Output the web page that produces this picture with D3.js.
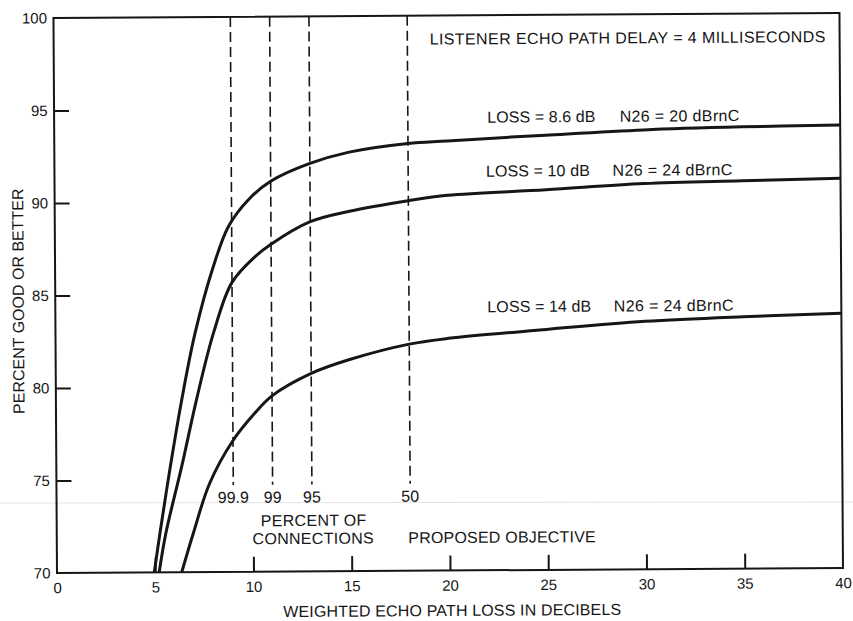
<!DOCTYPE html>
<html>
<head>
<meta charset="utf-8">
<script src="https://cdn.jsdelivr.net/npm/d3@7"></script>
<style>
  html, body { margin: 0; padding: 0; background: #fff; }
  svg { display: block; font-family: "Liberation Sans", Arial, Helvetica, sans-serif; }
</style>
</head>
<body>
<svg id="chart" width="853" height="621"></svg>
<script>
// Axis ticks
const xTickLabels = [0, 5, 10, 15, 20, 25, 30, 35, 40];
const yTickLabels = [70, 75, 80, 85, 90, 95, 100];
const xTickMarks = [5, 10, 15, 20, 25, 30, 35];
const yTickMarks = [75, 80, 85, 90, 95];

// Weighted echo path loss (dB) vs. percent good or better
const loss86X = [4.95, 5.25, 5.8, 6.4, 7.1, 8.05, 8.85, 9.85, 11, 13, 15, 18, 20, 25, 30, 35, 40];
const loss86Y = [70, 72.1, 75.7, 79.3, 82.9, 86.5, 88.7, 90.1, 91.1, 92.05, 92.65, 93.1, 93.22, 93.5, 93.75, 93.88, 93.95];

const loss10X = [5.2, 5.55, 6.4, 7.15, 8.05, 9, 10.2, 11, 13, 15, 18, 20, 25, 30, 35, 40];
const loss10Y = [70, 72.1, 75.8, 79.3, 82.95, 85.65, 87.05, 87.7, 88.9, 89.45, 90.0, 90.28, 90.55, 90.85, 90.97, 91.07];

const loss14X = [6.35, 6.95, 7.8, 9, 10.1, 11, 13, 15, 18, 20, 25, 30, 35, 40];
const loss14Y = [70, 72.1, 74.8, 77.1, 78.55, 79.5, 80.7, 81.45, 82.25, 82.55, 83.0, 83.4, 83.62, 83.77];

// Percent-of-connections markers (echo path loss, dB)
const markerLoss = [9, 11, 13, 18];
const markerLabels = ["99.9", "99", "95", "50"];
const markerBottom = 74.7;

const seriesLossLabels = ["LOSS = 8.6 dB", "LOSS = 10 dB", "LOSS = 14 dB"];
const seriesNoiseLabels = ["N26 = 20 dBrnC", "N26 = 24 dBrnC", "N26 = 24 dBrnC"];

const svg = d3.select("#chart");
const ink = "#161616";

const x = d3.scaleLinear().domain([0, 40]).range([57, 843]);
const y = d3.scaleLinear().domain([70, 100]).range([573, 18]);

// faint horizontal streak across the sheet
svg.append("line")
  .attr("x1", 0).attr("x2", 853).attr("y1", 503).attr("y2", 502)
  .attr("stroke", "#e4e4e4").attr("stroke-width", 1);

// the drawing sits very slightly tilted on the page
const g = svg.append("g").attr("transform", "rotate(-0.364, 57, 573)");

// tick labels
const yAxis = g.append("g")
  .attr("transform", `translate(${x(0)},0)`)
  .call(d3.axisLeft(y).tickValues(yTickLabels).tickSize(0).tickPadding(6.5).tickFormat(d3.format("d")));
yAxis.select(".domain").remove();
yAxis.selectAll("text").attr("font-size", 15).attr("fill", ink).attr("font-family", null);

const xAxis = g.append("g")
  .attr("transform", `translate(0,${y(70)})`)
  .call(d3.axisBottom(x).tickValues(xTickLabels).tickSize(0).tickPadding(9.5).tickFormat(d3.format("d")));
xAxis.select(".domain").remove();
xAxis.selectAll("text").attr("font-size", 15).attr("fill", ink).attr("font-family", null);

// inward tick marks
const yMarks = g.append("g")
  .attr("transform", `translate(${x(0)},0)`)
  .call(d3.axisLeft(y).tickValues(yTickMarks).tickSize(-15).tickFormat(""));
yMarks.select(".domain").remove();
yMarks.selectAll("line").attr("stroke", ink).attr("stroke-width", 2);

const xMarks = g.append("g")
  .attr("transform", `translate(0,${y(70)})`)
  .call(d3.axisBottom(x).tickValues(xTickMarks).tickSize(-15).tickFormat(""));
xMarks.select(".domain").remove();
xMarks.selectAll("line").attr("stroke", ink).attr("stroke-width", 2);

// frame
g.append("rect")
  .attr("x", x(0)).attr("y", y(100))
  .attr("width", x(40) - x(0)).attr("height", y(70) - y(100))
  .attr("fill", "none").attr("stroke", ink).attr("stroke-width", 2);

// dashed percentile markers
g.selectAll("line.marker")
  .data(markerLoss)
  .join("line")
  .attr("class", "marker")
  .attr("x1", d => x(d)).attr("x2", d => x(d))
  .attr("y1", y(100)).attr("y2", y(markerBottom))
  .attr("stroke", ink).attr("stroke-width", 1.6)
  .attr("stroke-dasharray", "10,5");

g.selectAll("text.marker")
  .data(markerLoss)
  .join("text")
  .attr("class", "marker")
  .attr("x", d => x(d)).attr("y", 504)
  .attr("text-anchor", "middle")
  .attr("font-size", 16).attr("fill", ink)
  .text((d, i) => markerLabels[i]);

// curves
const line = d3.line()
  .x(d => x(d[0])).y(d => y(d[1]))
  .curve(d3.curveCatmullRom.alpha(0.5));

const series = [
  d3.zip(loss86X, loss86Y),
  d3.zip(loss10X, loss10Y),
  d3.zip(loss14X, loss14Y)
];

g.selectAll("path.curve")
  .data(series)
  .join("path")
  .attr("class", "curve")
  .attr("d", line)
  .attr("fill", "none").attr("stroke", ink)
  .attr("stroke-width", 3).attr("stroke-linejoin", "round");

// annotations
const note = (tx, ty, str, anchor, spacing) => g.append("text")
  .attr("x", tx).attr("y", ty)
  .attr("text-anchor", anchor || "start")
  .attr("font-size", 16).attr("fill", ink)
  .attr("letter-spacing", spacing || 0)
  .text(str);

note(433, 47, "LISTENER ECHO PATH DELAY = 4 MILLISECONDS", "start", 0.4);

const labelRows = [125.4, 179.4, 315];
const lossStart = [490, 488.5, 489];
const noiseStart = [622.5, 615, 615.5];
labelRows.forEach((ry, i) => {
  note(lossStart[i], ry, seriesLossLabels[i], "start", 0.1);
  note(noiseStart[i], ry, seriesNoiseLabels[i], "start", 0.35);
});

note(314, 527.5, "PERCENT OF", "middle", 0.3);
note(313.5, 545.5, "CONNECTIONS", "middle", 0.3);
note(408.5, 545.5, "PROPOSED OBJECTIVE", "start", 0.2);

// axis titles
note(452, 618.5, "WEIGHTED ECHO PATH LOSS IN DECIBELS", "middle", 0.15);
g.append("text")
  .attr("transform", "translate(25.5,301) rotate(-90)")
  .attr("text-anchor", "middle")
  .attr("font-size", 16).attr("fill", ink)
  .text("PERCENT GOOD OR BETTER");
</script>
</body>
</html>
